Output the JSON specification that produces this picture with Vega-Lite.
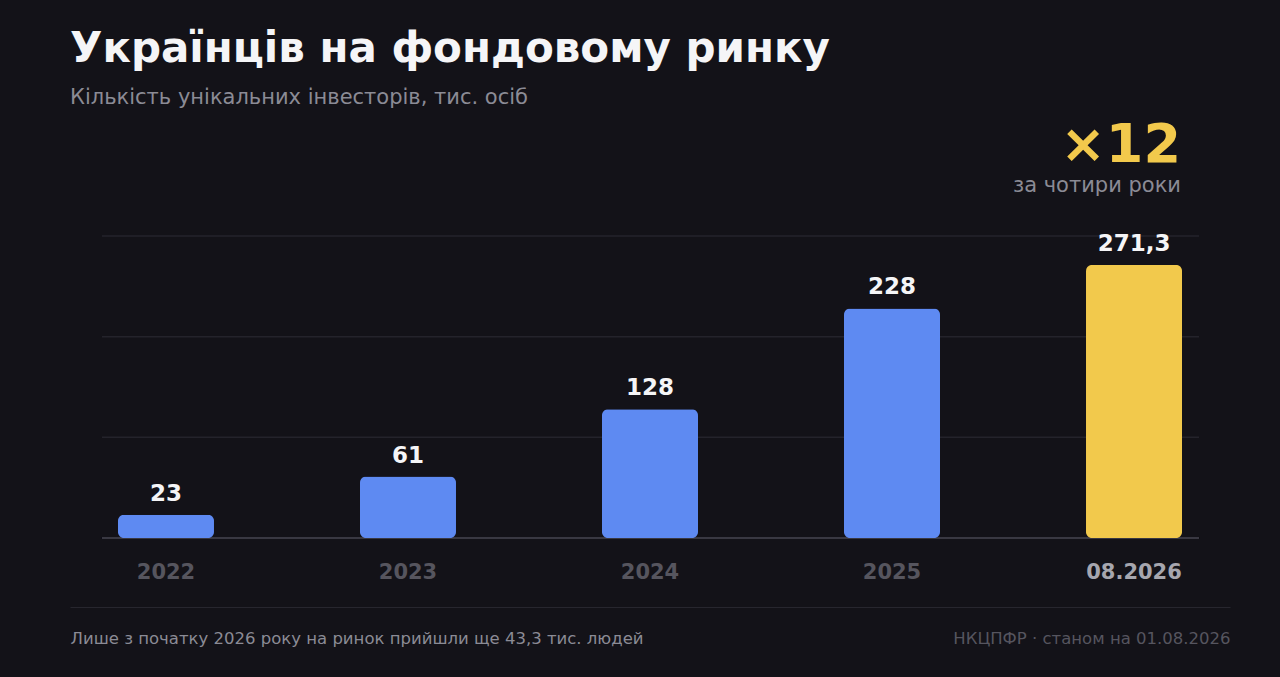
{
  "$schema": "https://vega.github.io/schema/vega-lite/v6.json",
  "width": 1160,
  "height": 302,
  "autosize": {"type": "none"},
  "padding": {"left": 70, "top": 236, "right": 50, "bottom": 139},
  "background": "#131218",
  "title": {
    "text": "Українців на фондовому ринку",
    "subtitle": "Кількість унікальних інвесторів, тис. осіб",
    "anchor": "start",
    "frame": "group",
    "offset": 10,
    "font": "DejaVu Sans",
    "fontSize": 42,
    "fontWeight": "bold",
    "color": "#f5f5f7",
    "subtitleFont": "DejaVu Sans",
    "subtitleFontSize": 21,
    "subtitleColor": "#8b8b95",
    "subtitlePadding": 16
  },
  "data": {
    "values": [
      {"label": "2022", "value": 23},
      {"label": "2023", "value": 61},
      {"label": "2024", "value": 128},
      {"label": "2025", "value": 228},
      {"label": "08.2026", "value": 271.3, "note": "×12", "noteSub": "за чотири роки"}
    ]
  },
  "encoding": {
    "x": {
      "field": "label",
      "type": "nominal",
      "sort": null,
      "title": "Лише з початку 2026 року на ринок прийшли ще 43,3 тис. людей",
      "scale": {
        "domain": ["2022", "2023", "2024", "2025", "08.2026"],
        "paddingInner": 0.6033,
        "paddingOuter": 0.1983
      },
      "axis": {
        "orient": "bottom",
        "offset": 69,
        "domain": true,
        "domainColor": "#27262e",
        "domainWidth": 1,
        "ticks": false,
        "tickSize": 0,
        "grid": false,
        "labelAngle": 0,
        "labelFont": "DejaVu Sans",
        "labelFontSize": 21,
        "labelFontWeight": "bold",
        "labelBaseline": "alphabetic",
        "labelPadding": -29,
        "labelColor": {
          "condition": {"test": "datum.value === '08.2026'", "value": "#a6a6ae"},
          "value": "#56555e"
        },
        "titleX": 0,
        "titleY": 36,
        "titleAlign": "left",
        "titleAnchor": "start",
        "titleBaseline": "alphabetic",
        "titleFont": "DejaVu Sans",
        "titleFontSize": 16.5,
        "titleFontWeight": "normal",
        "titleColor": "#8b8b95"
      }
    },
    "y": {
      "field": "value",
      "type": "quantitative",
      "title": "НКЦПФР · станом на 01.08.2026",
      "scale": {"domain": [0, 300], "nice": false},
      "axis": {
        "orient": "left",
        "domain": false,
        "ticks": false,
        "labels": false,
        "grid": false,
        "titleAngle": 0,
        "titleX": 1160,
        "titleY": 407,
        "titleAlign": "right",
        "titleBaseline": "alphabetic",
        "titleFont": "DejaVu Sans",
        "titleFontSize": 16.5,
        "titleFontWeight": "normal",
        "titleColor": "#56555f"
      }
    }
  },
  "layer": [
    {
      "data": {"values": [{"value": 100}, {"value": 200}, {"value": 300}]},
      "mark": {"type": "rule", "color": "#24232b", "strokeWidth": 1.5, "xOffset": -16, "x2Offset": 17},
      "encoding": {
        "x": {"datum": "2022", "type": "nominal", "bandPosition": 0},
        "x2": {"datum": "08.2026", "bandPosition": 1}
      }
    },
    {
      "mark": {"type": "rule", "color": "#393842", "strokeWidth": 2, "xOffset": -16, "x2Offset": 17},
      "encoding": {
        "x": {"datum": "2022", "type": "nominal", "bandPosition": 0},
        "x2": {"datum": "08.2026", "bandPosition": 1},
        "y": {"datum": 0, "type": "quantitative"}
      }
    },
    {
      "mark": {"type": "bar", "cornerRadius": 6},
      "encoding": {
        "color": {
          "condition": {"test": "datum.label === '08.2026'", "value": "#f2c94c"},
          "value": "#5e8af2"
        }
      }
    },
    {
      "mark": {
        "type": "text",
        "dy": -14,
        "baseline": "alphabetic",
        "font": "DejaVu Sans",
        "fontSize": 23,
        "fontWeight": "bold",
        "color": "#f5f5f7"
      },
      "encoding": {
        "text": {"field": "value", "type": "quantitative", "format": "~r"}
      }
    },
    {
      "transform": [{"filter": "datum.note"}],
      "mark": {
        "type": "text",
        "align": "right",
        "baseline": "alphabetic",
        "dx": 47,
        "dy": -103,
        "font": "DejaVu Sans",
        "fontSize": 54,
        "fontWeight": "bold",
        "color": "#f2c94c"
      },
      "encoding": {
        "text": {"field": "note"}
      }
    },
    {
      "transform": [{"filter": "datum.noteSub"}],
      "mark": {
        "type": "text",
        "align": "right",
        "baseline": "alphabetic",
        "dx": 47,
        "dy": -73,
        "font": "DejaVu Sans",
        "fontSize": 21,
        "color": "#8b8b95"
      },
      "encoding": {
        "text": {"field": "noteSub"}
      }
    }
  ],
  "config": {
    "view": {"stroke": null},
    "font": "DejaVu Sans",
    "locale": {
      "number": {"decimal": ",", "thousands": " ", "grouping": [3], "currency": ["", " ₴"]}
    }
  }
}
